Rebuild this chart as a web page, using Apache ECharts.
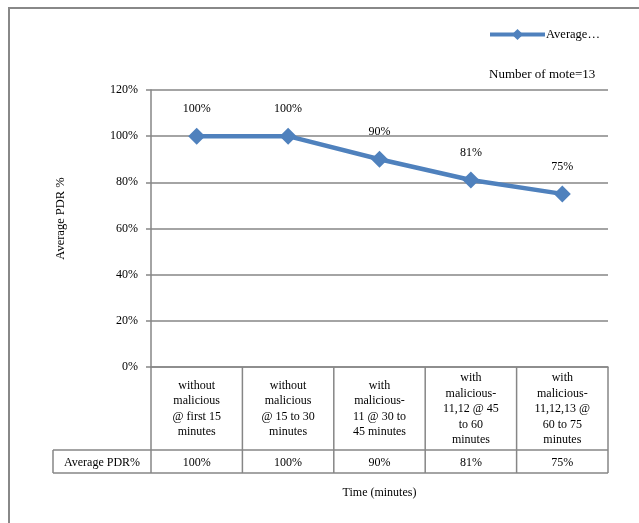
<!DOCTYPE html>
<html>
<head>
<meta charset="utf-8">
<script src="https://cdn.jsdelivr.net/npm/echarts@6/dist/echarts.min.js"></script>
<style>html,body{margin:0;padding:0;background:#fff;}#c{width:639px;height:523px;}</style>
</head>
<body>
<div id="c"></div>
<script>
var categories = [
  'without\nmalicious\n@ first 15\nminutes',
  'without\nmalicious\n@ 15 to 30\nminutes',
  'with\nmalicious-\n11 @ 30 to\n45 minutes',
  'with\nmalicious-\n11,12 @ 45\nto 60\nminutes',
  'with\nmalicious-\n11,12,13 @\n60 to 75\nminutes'
];
var seriesName = 'Average PDR%';
var values = [100, 100, 90, 81, 75];
var yTicks = [0, 20, 40, 60, 80, 100, 120];

(function () {
var FONT = 'Liberation Serif';
var GRAY = '#868686';
var chart = echarts.init(document.getElementById('c'));
var gridTop = 90, gridBottom = 367, gridLeft = 151, gridRight = 608;
var option = {
  animation: false,
  textStyle: {fontFamily: FONT, color: '#000'},
  title: {
    text: 'Number of mote=13', left: 484, top: 63,
    textStyle: {fontFamily: FONT, fontSize: 13, fontWeight: 'normal', color: '#000'}
  },
  legend: {
    data: [seriesName], left: 483, top: 23, itemWidth: 55, itemHeight: 14, itemGap: 4,
    lineStyle: {width: 4},
    formatter: function () { return 'Average\u2026'; },
    textStyle: {fontFamily: FONT, fontSize: 12.5, color: '#000', padding: [0, 0, 0, -4]}
  },
  grid: {left: gridLeft, right: 639 - gridRight, top: gridTop, bottom: 523 - gridBottom, containLabel: false},
  xAxis: [{
    type: 'category', data: categories, position: 'bottom',
    axisLine: {show: true, lineStyle: {color: GRAY, width: 1.5}},
    axisTick: {show: false},
    axisLabel: {margin: 42, verticalAlign: 'middle', fontFamily: FONT, fontSize: 12, lineHeight: 15.5, color: '#000', interval: 0},
    splitLine: {show: false}
  }, {
    type: 'category', data: values.map(function (v) { return v + '%'; }), position: 'bottom',
    axisLine: {show: false}, axisTick: {show: false},
    axisLabel: {margin: 96, verticalAlign: 'middle', fontFamily: FONT, fontSize: 12, color: '#000', interval: 0},
    name: 'Time (minutes)', nameLocation: 'middle', nameGap: 120,
    nameTextStyle: {fontFamily: FONT, fontSize: 12, color: '#000'}
  }],
  yAxis: {
    type: 'value', min: yTicks[0], max: yTicks[yTicks.length - 1], interval: yTicks[1] - yTicks[0],
    axisLine: {show: true, lineStyle: {color: GRAY, width: 1.5}},
    axisTick: {show: true, length: 5, lineStyle: {color: GRAY, width: 1.5}},
    axisLabel: {formatter: '{value}%', margin: 13, fontFamily: FONT, fontSize: 12, color: '#000'},
    splitLine: {show: true, lineStyle: {color: GRAY, width: 1.5}},
    name: 'Average PDR %', nameLocation: 'middle', nameGap: 84,
    nameTextStyle: {fontFamily: FONT, fontSize: 12.5, color: '#000', padding: [0, 0, 0, 20]}
  },
  series: [{
    name: seriesName, type: 'line', data: values, xAxisIndex: 0,
    symbol: 'diamond', symbolSize: 17,
    lineStyle: {color: '#4F81BD', width: 4.5},
    itemStyle: {color: '#4F81BD'},
    label: {show: true, position: 'top', distance: 13, formatter: '{c}%', fontFamily: FONT, fontSize: 12, color: '#000'}
  }]
};
chart.setOption(option);

// table borders, positioned from the category scale
var p0 = chart.convertToPixel({xAxisIndex: 0}, 0);
var p1 = chart.convertToPixel({xAxisIndex: 0}, 1);
var band = p1 - p0;
var axisY = chart.convertToPixel({yAxisIndex: 0}, 0);
var rowMid = axisY + 83, rowBot = axisY + 106, labelLeft = 53;
var els = [];
var ls = {stroke: GRAY, lineWidth: 1.5};
for (var i = 0; i <= categories.length; i++) {
  var x = p0 - band / 2 + i * band;
  els.push({type: 'line', shape: {x1: x, y1: axisY, x2: x, y2: rowBot}, style: ls, silent: true});
}
var rightX = p0 - band / 2 + categories.length * band;
els.push({type: 'line', shape: {x1: labelLeft, y1: rowMid, x2: rightX, y2: rowMid}, style: ls, silent: true});
els.push({type: 'line', shape: {x1: labelLeft, y1: rowBot, x2: rightX, y2: rowBot}, style: ls, silent: true});
els.push({type: 'line', shape: {x1: labelLeft, y1: rowMid, x2: labelLeft, y2: rowBot}, style: ls, silent: true});
els.push({type: 'text', x: (labelLeft + p0 - band / 2) / 2, y: (rowMid + rowBot) / 2 + 1, silent: true,
  style: {text: seriesName, fontFamily: FONT, fontSize: 12, fill: '#000', align: 'center', verticalAlign: 'middle'}});
els.push({type: 'rect', shape: {x: 9, y: 8, width: 700, height: 600}, style: {fill: 'none', stroke: '#888', lineWidth: 2}, silent: true});
chart.setOption({graphic: els});
})();
</script>
</body>
</html>
